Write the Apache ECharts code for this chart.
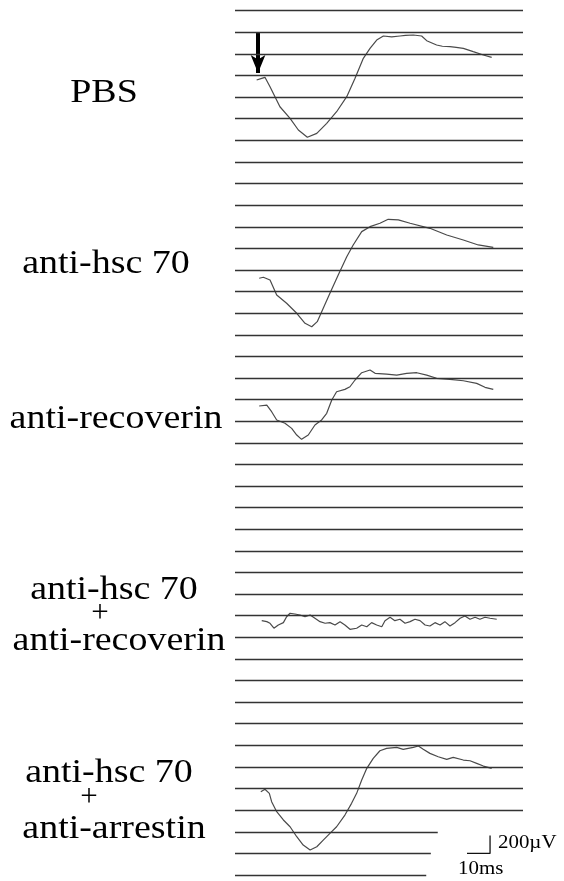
<!DOCTYPE html>
<html>
<head>
<meta charset="utf-8">
<script src="https://cdn.jsdelivr.net/npm/echarts@6/dist/echarts.min.js"></script>
<style>html,body{margin:0;padding:0;background:#fff;}#chart{width:564px;height:881px;}</style>
</head>
<body>
<div id="chart"></div>
<script>
// ---- axis extents (time in ms, amplitude in µV) ----
const timeMax = 125;          // ms across the raster
const levelStep = 240;        // µV between raster lines
const levelCount = 41;
const ampMax = levelStep * (levelCount - 1);
const shortLineEnds = [83, 85, 88]; // ms, bottom three raster lines stop early

// ---- condition labels ----
const labels = ['PBS', 'anti-hsc 70', 'anti-recoverin', 'anti-hsc 70 + anti-recoverin', 'anti-hsc 70 + anti-arrestin'];

// ---- trace baselines on the raster (µV) ----
const traceBase = [8830, 6628, 5209, 2825, 925];

// ---- trace 1 : PBS ----
const t1 = [9.4, 11.6, 13.0, 15.2, 19.5, 23.9, 27.5, 31.4, 35.5, 39.8, 44.1, 48.5, 52.1, 55.7, 58.6, 61.5, 64.4, 68.0, 71.6, 74.0, 77.4, 81.0, 83.2, 87.5, 90.0, 93.3, 96.0, 99.1, 103.4, 107.8, 111.4];
const v1 = [0, 19, 30, -74, -297, -425, -555, -636, -592, -481, -352, -185, 19, 241, 352, 444, 489, 480, 489, 495, 500, 489, 437, 389, 375, 370, 362, 352, 315, 278, 252];

// ---- trace 2 : anti-hsc 70 ----
const t2 = [10.5, 12.3, 15.2, 18.1, 22.4, 26.8, 30.4, 33.3, 35.7, 38.3, 41.2, 44.8, 48.5, 51.3, 55.0, 58.6, 62.9, 66.5, 70.9, 76.0, 84.6, 91.9, 99.1, 105.6, 112.1];
const v2 = [0, 11, -19, -185, -278, -389, -500, -538, -482, -333, -167, 37, 240, 370, 518, 573, 611, 655, 648, 611, 555, 481, 425, 370, 344];

// ---- trace 3 : anti-recoverin ----
const t3 = [10.5, 13.8, 15.9, 18.1, 21.7, 24.6, 26.8, 28.9, 31.8, 34.7, 37.6, 39.8, 42.0, 44.1, 47.7, 49.9, 52.1, 55.0, 58.6, 60.8, 65.8, 70.2, 74.5, 78.9, 83.2, 87.5, 93.3, 99.1, 104.9, 108.5, 112.1];
const v3 = [0, 11, -63, -155, -192, -248, -322, -370, -322, -211, -155, -81, 67, 159, 185, 214, 289, 370, 400, 363, 355, 344, 363, 370, 344, 308, 297, 281, 252, 208, 185];

// ---- trace 4 : anti-hsc 70 + anti-recoverin ----
const t4 = [11.6, 13.8, 15.2, 16.9, 18.8, 21.0, 22.4, 23.9, 26.0, 28.2, 30.4, 32.6, 34.7, 36.9, 39.1, 41.2, 43.4, 45.6, 47.7, 49.9, 52.8, 55.0, 57.2, 59.3, 61.5, 63.7, 65.1, 67.3, 69.4, 71.6, 73.8, 76.0, 78.1, 80.3, 82.5, 84.6, 86.8, 89.0, 91.1, 93.3, 95.5, 97.7, 99.8, 102.0, 104.2, 106.3, 108.5, 110.7, 113.6];
const v4 = [0, -11, -29, -84, -48, -22, 44, 82, 74, 63, 44, 63, 27, -11, -29, -22, -48, -11, -48, -96, -84, -48, -67, -22, -48, -67, 0, 38, 0, 16, -29, -11, 16, 0, -48, -59, -22, -48, -11, -59, -22, 27, 52, 16, 38, 16, 38, 27, 16];

// ---- trace 5 : anti-hsc 70 + anti-arrestin ----
const t5 = [11.2, 13.0, 14.9, 15.9, 18.1, 21.0, 23.9, 26.8, 29.6, 32.6, 35.5, 38.3, 41.2, 44.1, 47.7, 50.6, 52.8, 55.0, 57.2, 60.0, 62.9, 65.8, 70.2, 73.0, 77.4, 79.6, 81.7, 84.6, 88.2, 91.9, 94.7, 99.1, 102.0, 104.9, 107.8, 111.4];
const v5 = [0, 27, -18, -111, -222, -314, -389, -500, -592, -648, -611, -537, -462, -389, -259, -129, -18, 130, 260, 371, 455, 482, 493, 471, 493, 508, 471, 426, 389, 360, 382, 352, 344, 315, 285, 260];

// ---- stimulus arrow & calibration bar ----
const stimulusTime = 10;              // ms
const arrowFrom = 9352, arrowTo = 8908; // µV on raster
const calTime = [100.7, 110.7];       // 10 ms
const calAmp = [240, 440];            // 200 µV
const calLabels = ['200\u00b5V', '10ms'];

const times = [t1, t2, t3, t4, t5];
const vals = [v1, v2, v3, v4, v5];

const chart = echarts.init(document.getElementById('chart'), null, {renderer: 'canvas'});

const rasterLines = [];
for (let i = 0; i < levelCount; i++) {
  const end = i < shortLineEnds.length ? shortLineEnds[i] : timeMax;
  rasterLines.push([{coord: [0, i * levelStep]}, {coord: [end, i * levelStep]}]);
}

const traceSeries = times.map((t, k) => ({
  type: 'line',
  data: t.map((x, j) => [x, traceBase[k] + vals[k][j]]),
  showSymbol: false,
  symbol: 'none',
  lineStyle: {color: '#4a4a4a', width: 1.2},
  z: 3,
  silent: true
}));

traceSeries[0].markLine = {
  silent: true,
  symbol: ['none', 'arrow'],
  symbolSize: [11, 18],
  lineStyle: {color: '#000', width: 4, type: 'solid'},
  itemStyle: {color: '#000'},
  label: {show: false},
  data: [[{coord: [stimulusTime, arrowFrom]}, {coord: [stimulusTime, arrowTo]}]]
};

const calSeries = {
  type: 'line',
  data: [[calTime[0], calAmp[0]], [calTime[1], calAmp[0]], [calTime[1], calAmp[1]]],
  showSymbol: false,
  symbol: 'none',
  lineStyle: {color: '#111', width: 1.3},
  silent: true,
  z: 2,
  markLine: {
    silent: true,
    symbol: ['none', 'none'],
    label: {show: false},
    lineStyle: {color: '#333', width: 1.3, type: 'solid'},
    data: rasterLines
  }
};

const serif = '"Liberation Serif", "DejaVu Serif", serif';
function txt(str, x, y, size, sx, align) {
  return {
    type: 'text', x: x, y: y, scaleX: sx, originX: 0, originY: 0,
    style: {text: str, font: size + 'px ' + serif, fill: '#000', align: align || 'center', verticalAlign: 'middle'}
  };
}
const g3 = labels[3].split(' + ');
const g4 = labels[4].split(' + ');
const F = 33, SX = 1.15, FP = 31;
const graphics = [
  txt(labels[0], 104, 93, F, SX),
  txt(labels[1], 106, 264, F, SX),
  txt(labels[2], 116, 419, F, SX),
  txt(g3[0], 114, 590, F, SX),
  txt('+', 100, 614, FP, 1),
  txt(g3[1], 119, 641, F, SX),
  txt(g4[0], 109, 773, F, SX),
  txt('+', 89, 798, FP, 1),
  txt(g4[1], 114, 829, F, SX),
  txt(calLabels[0], 498, 843, 19, 1.1, 'left'),
  txt(calLabels[1], 458, 869, 19, 1.1, 'left')
];

chart.setOption({
  animation: false,
  backgroundColor: '#fff',
  grid: {left: 235, right: 41, top: 10.7, bottom: 6},
  xAxis: {type: 'value', min: 0, max: timeMax, show: false},
  yAxis: {type: 'value', min: 0, max: ampMax, show: false},
  series: traceSeries.concat([calSeries]),
  graphic: graphics
});
</script>
</body>
</html>
